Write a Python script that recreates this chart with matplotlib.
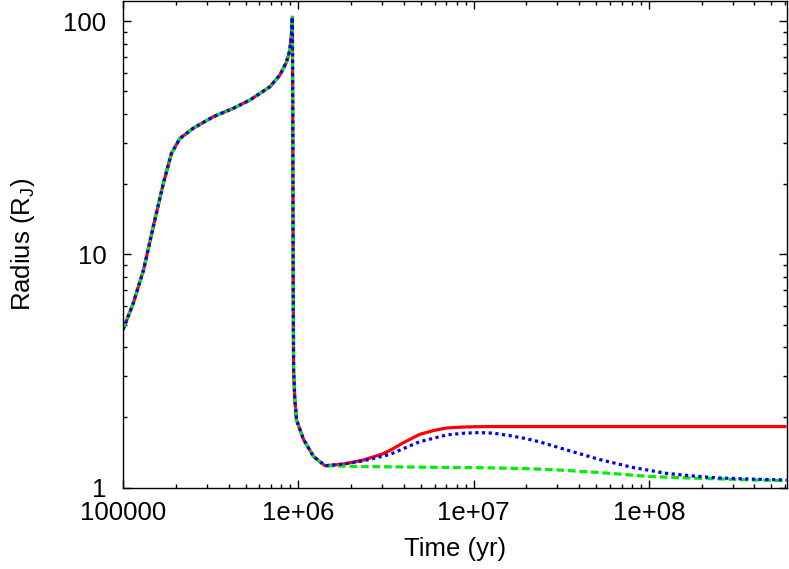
import numpy as np
import matplotlib.pyplot as plt
from matplotlib.ticker import LogLocator, FixedLocator, FixedFormatter, NullFormatter

plt.rcParams['font.family'] = ['Liberation Sans', 'DejaVu Sans']

# common early evolution (all three models overlap)
shared_t = [1.0e5, 1.145e5, 1.31e5, 1.49e5, 1.70e5, 1.89e5, 2.11e5, 2.51e5, 3.27e5,
            4.26e5, 5.3e5, 6.88e5, 7.85e5, 8.57e5, 8.95e5, 9.15e5, 9.25e5, 9.3e5,
            9.35e5, 9.4e5, 9.55e5, 9.77e5, 1.07e6, 1.22e6, 1.42e6]
shared_r = [4.75, 6.18, 8.58, 13.2, 20.2, 27.1, 31.4, 34.7, 38.9,
            42.3, 45.9, 52.3, 58.7, 66.9, 75.1, 88.5, 104.0, 40.0,
            8.0, 3.2, 2.4, 1.95, 1.61, 1.36, 1.24]

# late evolution, per model
red_t = [1.8e6, 2.33e6, 3.0e6, 3.32e6, 4.0e6, 4.92e6, 6.0e6, 7.0e6, 8.5e6, 1.0e7,
         1.3e7, 2.0e7, 6.1e8]
red_r = [1.26, 1.31, 1.39, 1.44, 1.56, 1.69, 1.76, 1.80, 1.815, 1.822,
         1.826, 1.826, 1.826]

blue_t = [1.8e6, 2.33e6, 3.32e6, 4.9e6, 7.0e6, 8.8e6, 1.08e7, 1.3e7, 1.6e7, 2.0e7,
          2.38e7, 3.39e7, 5.2e7, 8.06e7, 1.26e8, 1.8e8, 2.43e8, 3.8e8, 6.1e8]
blue_r = [1.26, 1.30, 1.385, 1.57, 1.68, 1.71, 1.72, 1.71, 1.67, 1.62,
          1.57, 1.45, 1.32, 1.22, 1.15, 1.12, 1.10, 1.087, 1.077]

green_t = [2.3e6, 4.0e6, 7.0e6, 1.2e7, 2.0e7, 3.0e7, 5.2e7, 7.5e7, 1.0e8, 1.6e8,
           2.4e8, 3.5e8, 6.1e8]
green_r = [1.23, 1.225, 1.22, 1.215, 1.205, 1.19, 1.16, 1.135, 1.115, 1.10,
           1.09, 1.08, 1.07]

xtick_vals = [1e5, 1e6, 1e7, 1e8]
xtick_labels = ['100000', '1e+06', '1e+07', '1e+08']
ytick_vals = [1, 10, 100]
ytick_labels = ['1', '10', '100']

fig = plt.figure(figsize=(7.89, 5.69), dpi=100)
ax = fig.add_axes([0.1559, 0.1432, 0.8416, 0.855])

ax.plot(shared_t + red_t, shared_r + red_r, color='#ff0000', lw=2.3,
        solid_capstyle='butt')
ax.plot(shared_t + green_t, shared_r + green_r, color='#00ee00', lw=2.3,
        dashes=(2.4, 1.2), dash_capstyle='butt')
ax.plot(shared_t + blue_t, shared_r + blue_r, color='#0000ff', lw=2.3,
        dashes=(1, 1.1), dash_capstyle='butt')

ax.set_xscale('log')
ax.set_yscale('log')
ax.set_xlim(1e5, 6.14e8)
ax.set_ylim(1, 122)

ax.xaxis.set_major_locator(FixedLocator(xtick_vals))
ax.xaxis.set_major_formatter(FixedFormatter(xtick_labels))
ax.xaxis.set_minor_locator(LogLocator(base=10, subs=np.arange(2, 10), numticks=20))
ax.xaxis.set_minor_formatter(NullFormatter())
ax.yaxis.set_major_locator(FixedLocator(ytick_vals))
ax.yaxis.set_major_formatter(FixedFormatter(ytick_labels))
ax.yaxis.set_minor_locator(LogLocator(base=10, subs=np.arange(2, 10), numticks=20))
ax.yaxis.set_minor_formatter(NullFormatter())

ax.tick_params(which='both', direction='in', top=True, right=True, width=1.0)
ax.tick_params(which='major', length=6)
ax.tick_params(which='minor', length=3)
ax.tick_params(axis='x', which='major', labelsize=18.5, pad=10)
ax.tick_params(axis='y', which='major', labelsize=18.5, pad=12)
for s in ax.spines.values():
    s.set_linewidth(1.0)

ax.set_xlabel('Time (yr)', fontsize=18.5, labelpad=8)
ax.set_ylabel('Radius (R$_\\mathregular{J}$)', fontsize=18.5, labelpad=19)

fig.savefig('out.png', dpi=100)
